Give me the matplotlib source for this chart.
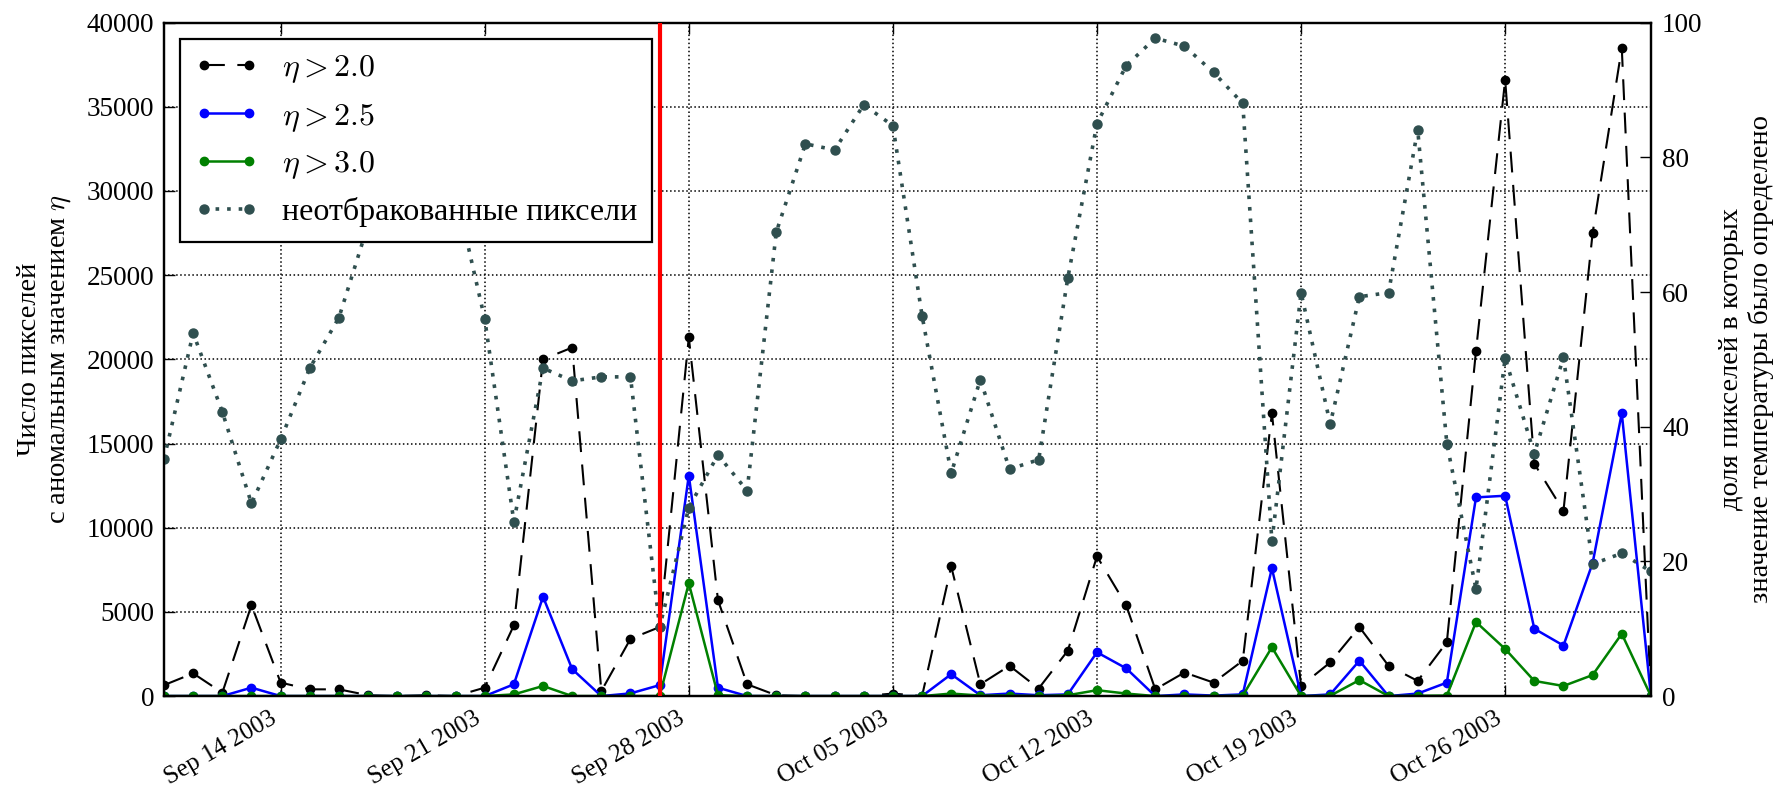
import numpy as np
import pandas as pd
import matplotlib
matplotlib.use('Agg')
import matplotlib.pyplot as plt
import matplotlib.dates as mdates

# daily values, Sep 10 2003 .. Oct 31 2003
start_date = '2003-09-10'
eta20 = [650, 1350, 200, 5400, 800, 400, 400, 50, 0, 50, 0, 500, 4200, 20000, 20700, 300, 3400, 4100,
         21300, 5700, 700, 50, 0, 0, 0, 150, 0, 7700, 700, 1800, 450, 2700, 8300, 5400, 400, 1400,
         800, 2100, 16800, 600, 2000, 4100, 1800, 900, 3200, 20500, 36600, 13800, 11000, 27500, 38500, 0]
eta25 = [0, 0, 0, 500, 0, 0, 0, 0, 0, 0, 0, 0, 700, 5900, 1600, 0, 160, 650,
         13100, 500, 0, 0, 0, 0, 0, 0, 0, 1300, 50, 150, 50, 100, 2600, 1650, 0, 100,
         30, 100, 7600, 0, 100, 2100, 0, 150, 800, 11800, 11900, 4000, 3000, 7900, 16800, 0]
eta30 = [0, 0, 0, 0, 0, 0, 0, 0, 0, 0, 0, 0, 100, 600, 0, 0, 0, 0,
         6700, 50, 0, 0, 0, 0, 0, 0, 0, 150, 30, 30, 0, 50, 350, 150, 0, 0,
         0, 30, 2900, 0, 20, 950, 0, 20, 30, 4400, 2800, 900, 600, 1250, 3700, 0]
good_pct = [35.2, 53.9, 42.2, 28.6, 38.1, 48.7, 56.2, 70.0, 79.0, 81.0, 75.0, 56.0, 25.9, 48.7, 46.8, 47.4, 47.4, 10.2,
            28.0, 35.8, 30.5, 68.9, 82.0, 81.1, 87.8, 84.7, 56.5, 33.1, 47.0, 33.7, 35.1, 62.1, 85.0, 93.6, 97.7, 96.5,
            92.6, 88.0, 23.0, 59.9, 40.4, 59.3, 59.9, 84.1, 37.5, 15.9, 50.2, 36.0, 50.3, 19.6, 21.2, 18.5]
event_date = '2003-09-27'

dates = pd.date_range(start_date, periods=len(eta20), freq='D')

plt.rcParams['font.family'] = 'serif'
plt.rcParams['font.serif'] = ['Liberation Serif', 'DejaVu Serif']
plt.rcParams['mathtext.fontset'] = 'cm'
plt.rcParams['axes.linewidth'] = 1.6

fig = plt.figure(figsize=(17.75, 7.91), dpi=100)
ax = fig.add_axes([0.0924, 0.12, 0.8377, 0.8514])
ax2 = ax.twinx()

l1, = ax.plot(dates, eta20, color='k', ls=(0, (10, 6)), lw=1.5, marker='o', ms=6, mec='k')
l2, = ax.plot(dates, eta25, color='b', lw=1.8, marker='o', ms=6, mec='b')
l3, = ax.plot(dates, eta30, color='g', lw=1.8, marker='o', ms=6, mec='g')
l4, = ax2.plot(dates, good_pct, color='darkslategray', ls=(0, (1, 2.2)), lw=2.6, marker='o', ms=6.5,
               mec='darkslategray')
ax2.axvline(pd.Timestamp(event_date), color='r', lw=3, zorder=10)

ax.set_xlim(dates[0], dates[-1])
ax.set_ylim(0, 40000)
ax2.set_ylim(0, 100)
ax.set_yticks(np.arange(0, 40001, 5000))
ax2.set_yticks(np.arange(0, 101, 20))

ax.xaxis.set_major_locator(mdates.WeekdayLocator(byweekday=mdates.SU))
ax.xaxis.set_major_formatter(mdates.DateFormatter('%b %d %Y'))
for lab in ax.get_xticklabels():
    lab.set_rotation(30)
    lab.set_ha('right')

ax.grid(True, ls=':', color='k', lw=1.1)
ax.tick_params(axis='both', direction='in', length=8, width=1, top=True, labelsize=19.5, pad=7)
ax.tick_params(axis='x', pad=8, labelsize=18)
ax2.tick_params(axis='y', direction='in', length=8, width=1, labelsize=19.5, pad=8)

ax.set_ylabel('Число пикселей\nс аномальным значением $\\eta$', fontsize=20.5, labelpad=10)
ax2.set_ylabel('доля пикселей в которых\nзначение температуры было определено', fontsize=20.5, labelpad=12)

leg = ax2.legend([l1, l2, l3, l4], ['$\\eta > 2.0$', '$\\eta > 2.5$', '$\\eta > 3.0$', 'неотбракованные пиксели'],
                 loc='upper left', fontsize=23, numpoints=2, handlelength=2.0, handletextpad=0.75,
                 fancybox=False, framealpha=1, edgecolor='k', borderpad=0.45, labelspacing=0.5,
                 borderaxespad=0.5)
leg.get_frame().set_linewidth(1.6)

fig.savefig('out.png', dpi=100)
